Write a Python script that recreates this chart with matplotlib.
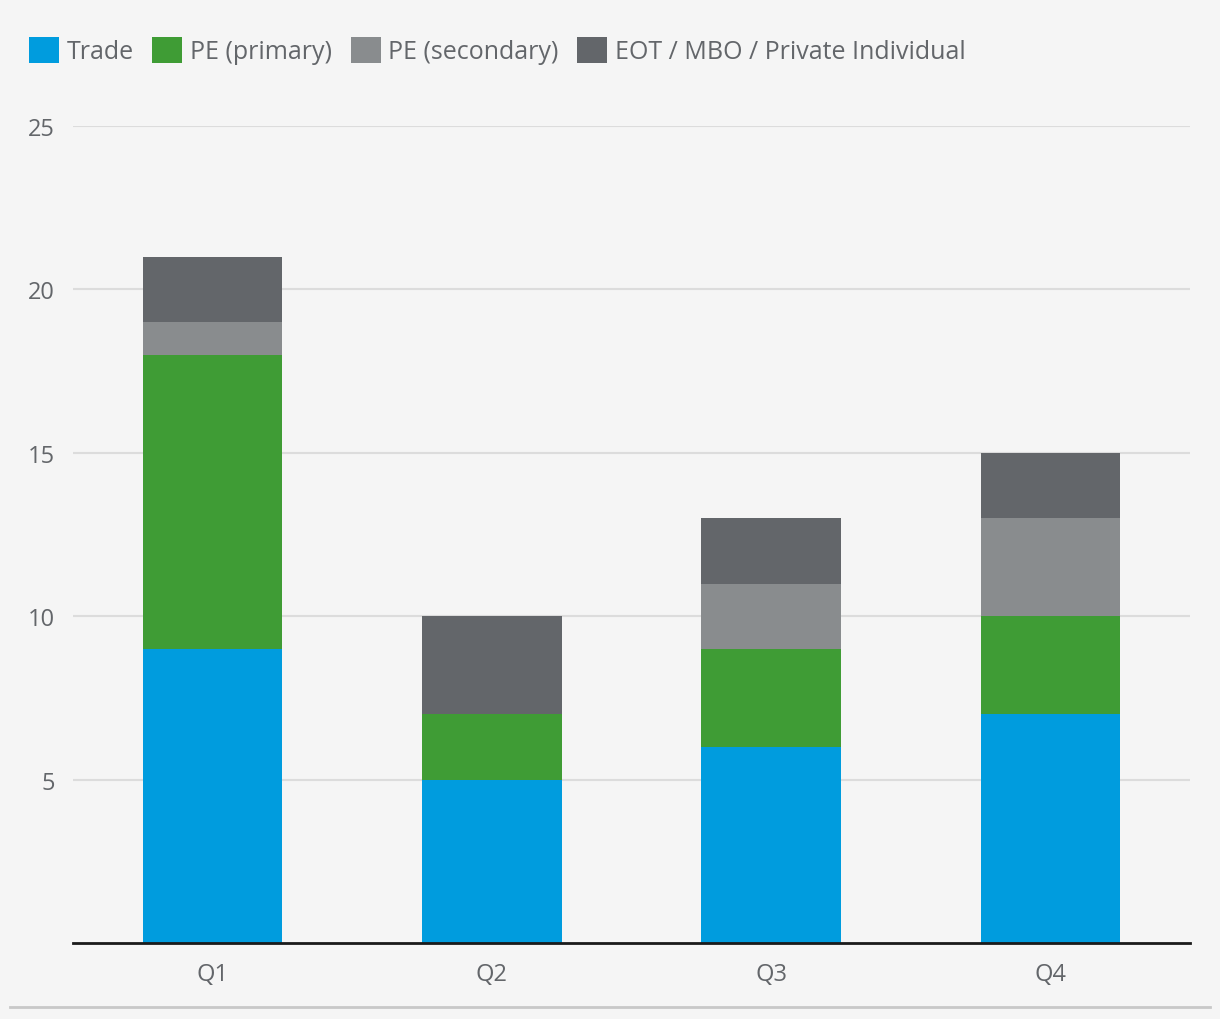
import numpy as np
import matplotlib
matplotlib.use('Agg')
import matplotlib.pyplot as plt
from matplotlib.patches import Patch
from matplotlib.lines import Line2D

quarters = ['Q1', 'Q2', 'Q3', 'Q4']
trade = [9, 5, 6, 7]
pe_primary = [9, 2, 3, 3]
pe_secondary = [1, 0, 2, 3]
eot_mbo = [2, 3, 2, 2]

series_names = ['Trade', 'PE (primary)', 'PE (secondary)', 'EOT / MBO / Private Individual']
colors = ['#009cde', '#3f9c35', '#898c8e', '#63666a']
text_color = '#63666a'
bg = '#f5f5f5'

plt.rcParams['font.family'] = ['Open Sans', 'DejaVu Sans']

fig = plt.figure(figsize=(12.2, 10.2), dpi=100, facecolor=bg)
ax = fig.add_axes([73/1220, 76/1020, 1117/1220, 817/1020], facecolor=bg)

x = np.arange(len(quarters))
bottom = np.zeros(len(quarters))
for vals, col in zip([trade, pe_primary, pe_secondary, eot_mbo], colors):
    ax.bar(x, vals, width=0.5, bottom=bottom, color=col, zorder=3)
    bottom += np.array(vals)

ax.set_xlim(-0.5, 3.5)
ax.set_ylim(0, 25)
ax.set_yticks([5, 10, 15, 20, 25])
ax.set_xticks(x)
ax.set_xticklabels(quarters)
ax.grid(axis='y', color='#dcdcdc', linewidth=1.5, zorder=0)
ax.set_axisbelow(True)
for s in ['top', 'right', 'left']:
    ax.spines[s].set_visible(False)
ax.spines['bottom'].set_color('#1a1a1a')
ax.spines['bottom'].set_linewidth(2)
ax.spines['bottom'].set_zorder(4)
ax.tick_params(axis='both', length=0, labelsize=17, labelcolor=text_color)
ax.tick_params(axis='y', pad=13)
ax.tick_params(axis='x', pad=14)

handles = [Patch(facecolor=c, edgecolor='none') for c in colors]
leg = fig.legend(handles, series_names, loc='upper left', bbox_to_anchor=(29/1220, 1 - 38/1020),
                 ncol=4, frameon=False, fontsize=18, handlelength=1.2, handleheight=1.2,
                 handletextpad=0.3, columnspacing=0.75, borderaxespad=0, borderpad=0)
for t in leg.get_texts():
    t.set_color(text_color)

fig.add_artist(Line2D([10/1220, 1210/1220], [1 - 1008/1020, 1 - 1008/1020],
                      color='#c8c8c8', linewidth=2, transform=fig.transFigure))

fig.savefig('out.png', dpi=100, facecolor=bg)
